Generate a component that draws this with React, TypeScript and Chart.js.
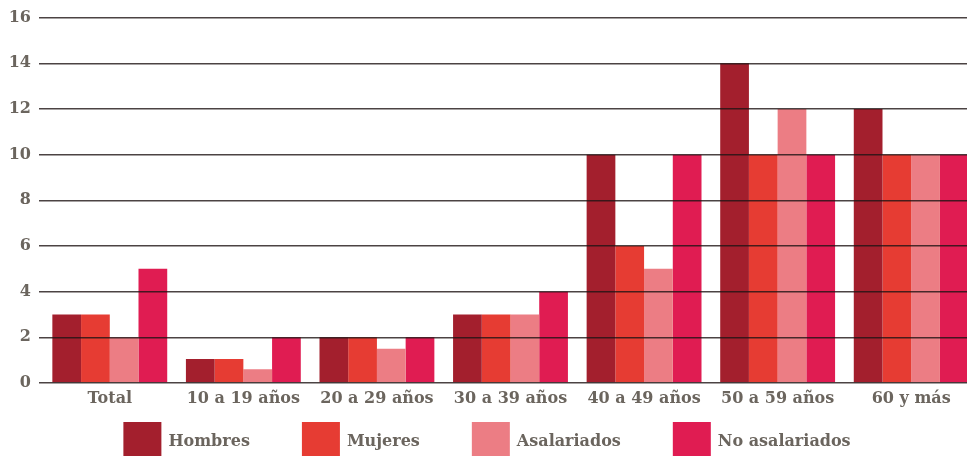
import React, { useEffect, useRef } from "react";
import { Chart, registerables } from "chart.js";

Chart.register(...registerables);

const categories = ["Total", "10 a 19 años", "20 a 29 años", "30 a 39 años", "40 a 49 años", "50 a 59 años", "60 y más"];
const hombres = [3, 1.05, 2, 3, 10, 14, 12];
const mujeres = [3, 1.05, 2, 3, 6, 10, 10];
const asalariados = [2, 0.6, 1.5, 3, 5, 12, 10];
const noAsalariados = [5, 2, 2, 4, 10, 10, 10];
const seriesNames = ["Hombres", "Mujeres", "Asalariados", "No asalariados"];
const seriesColors = ["#a31f2d", "#e63c33", "#ec7d84", "#e01c52"];
const yMin = 0;
const yMax = 16;
const yStep = 2;

const TEXT = "#6b655e";
const FONT = "'DejaVu Serif', serif";

const legendPlugin = {
  id: "bottomLegend",
  afterDraw(chart: any) {
    const ctx = chart.ctx;
    ctx.save();
    ctx.font = `bold 16px ${FONT}`;
    const boxW = 38;
    const boxH = 34;
    const gap = 7;
    const spacing = 52;
    const items = chart.data.datasets.map((ds: any) => ({
      text: ds.label,
      color: ds.backgroundColor,
      w: ctx.measureText(ds.label).width,
    }));
    const total =
      items.reduce((s: number, it: any) => s + boxW + gap + it.w, 0) + spacing * (items.length - 1);
    let x = chart.width / 2 - total / 2 - 2;
    const top = chart.height - boxH;
    ctx.textBaseline = "middle";
    ctx.textAlign = "left";
    items.forEach((it: any) => {
      ctx.fillStyle = it.color;
      ctx.fillRect(x, top, boxW, boxH);
      ctx.fillStyle = TEXT;
      ctx.fillText(it.text, x + boxW + gap, top + boxH / 2 + 3);
      x += boxW + gap + it.w + spacing;
    });
    ctx.restore();
  },
};

export default function App() {
  const ref = useRef<HTMLCanvasElement | null>(null);

  useEffect(() => {
    if (!ref.current) return;
    const values = [hombres, mujeres, asalariados, noAsalariados];
    const chart = new Chart(ref.current, {
      type: "bar",
      data: {
        labels: categories,
        datasets: seriesNames.map((name, i) => ({
          label: name,
          data: values[i],
          backgroundColor: seriesColors[i],
          borderWidth: 0,
          barPercentage: 1,
          categoryPercentage: 0.86,
        })),
      },
      options: {
        responsive: true,
        maintainAspectRatio: false,
        animation: false,
        layout: { padding: { top: 11, right: 0, left: 0, bottom: 39 } },
        plugins: {
          legend: { display: false },
          tooltip: { enabled: false },
        },
        scales: {
          x: {
            grid: { display: false, drawTicks: false },
            border: { display: false },
            ticks: {
              color: TEXT,
              font: { family: FONT, size: 16, weight: "bold" },
              padding: 6,
              maxRotation: 0,
            },
            afterFit: (scale: any) => {
              scale.height = 34;
            },
          },
          y: {
            min: yMin,
            max: yMax,
            grid: {
              color: "rgba(30,20,20,0.8)",
              lineWidth: 1.5,
              drawTicks: true,
              tickLength: 4,
              z: 1,
            },
            border: { display: false },
            ticks: {
              stepSize: yStep,
              color: TEXT,
              font: { family: FONT, size: 16, weight: "bold" },
              padding: 8,
            },
            afterFit: (scale: any) => {
              scale.width = 43;
            },
          },
        },
      },
      plugins: [legendPlugin],
    });
    return () => chart.destroy();
  }, []);

  return (
    <div style={{ position: "fixed", left: 0, top: 0, width: 967, height: 456, overflow: "hidden", background: "#fff" }}>
      <div style={{ position: "relative", width: 978, height: 456 }}>
        <canvas ref={ref} />
      </div>
    </div>
  );
}
